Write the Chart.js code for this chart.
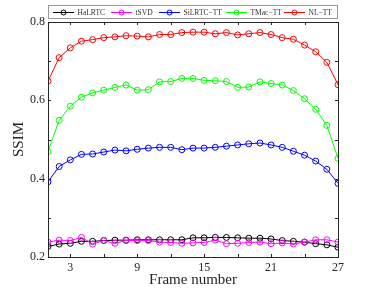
<!DOCTYPE html>
<html>
<head>
<meta charset="utf-8">
<script src="https://cdn.jsdelivr.net/npm/chart.js@4"></script>
<style>
  body { margin: 0; background: #fff; }
  canvas { display: block; }
</style>
</head>
<body>
<canvas id="ssim" width="374" height="289"></canvas>
<script>
var frames = [1, 2, 3, 4, 5, 6, 7, 8, 9, 10, 11, 12, 13, 14, 15, 16, 17, 18, 19, 20, 21, 22, 23, 24, 25, 26, 27];
var xTickLabels = [3, 9, 15, 21, 27];
var yTickLabels = [0.2, 0.4, 0.6, 0.8];
var seriesNames = ["HaLRTC", "tSVD", "SiLRTC\u2212TT", "TMac\u2212TT", "NL\u2212TT"];

var halrtc = [0.227, 0.233, 0.235, 0.240, 0.240, 0.242, 0.243, 0.243, 0.244, 0.244, 0.244, 0.244, 0.244, 0.249,
              0.249, 0.250, 0.250, 0.249, 0.248, 0.248, 0.246, 0.242, 0.240, 0.238, 0.234, 0.231, 0.225];
var tsvd = [0.238, 0.243, 0.242, 0.250, 0.233, 0.242, 0.235, 0.242, 0.242, 0.242, 0.238, 0.237, 0.235, 0.236,
            0.237, 0.243, 0.234, 0.235, 0.237, 0.238, 0.234, 0.236, 0.233, 0.238, 0.244, 0.244, 0.238];
var siltrcTT = [0.392, 0.431, 0.448, 0.462, 0.463, 0.468, 0.473, 0.471, 0.475, 0.478, 0.480, 0.480, 0.474, 0.478,
                0.478, 0.480, 0.483, 0.486, 0.489, 0.491, 0.486, 0.480, 0.470, 0.460, 0.445, 0.424, 0.388];
var tmacTT = [0.469, 0.549, 0.585, 0.608, 0.619, 0.626, 0.633, 0.639, 0.626, 0.627, 0.647, 0.648, 0.656, 0.656,
              0.651, 0.650, 0.648, 0.633, 0.634, 0.647, 0.643, 0.639, 0.625, 0.604, 0.577, 0.536, 0.452];
var nlTT = [0.649, 0.709, 0.734, 0.751, 0.755, 0.760, 0.762, 0.765, 0.764, 0.762, 0.768, 0.768, 0.773, 0.774,
            0.774, 0.770, 0.773, 0.767, 0.770, 0.773, 0.768, 0.760, 0.756, 0.741, 0.724, 0.697, 0.640];

var colors = ["#000000", "#ff00ff", "#0000ff", "#00ff00", "#ff0000"];
var allSeries = [halrtc, tsvd, siltrcTT, tmacTT, nlTT];
var serif = "'Liberation Serif', 'Times New Roman', serif";

function mkSet(i, order) {
    return {
        label: seriesNames[i],
        data: frames.map(function(f, k) { return { x: f, y: allSeries[i][k] }; }),
        borderColor: colors[i],
        borderWidth: 1,
        pointRadius: 3,
        pointBorderWidth: 1,
        pointBorderColor: colors[i],
        pointBackgroundColor: 'rgba(0,0,0,0)',
        tension: 0,
        order: order
    };
}

// box, inward ticks and legend drawn MATLAB style
var matlabBox = {
    id: 'matlabBox',
    afterDraw: function(chart) {
        var ctx = chart.ctx, a = chart.chartArea, sx = chart.scales.x, sy = chart.scales.y;
        ctx.save();
        ctx.strokeStyle = '#262626';
        ctx.lineWidth = 1;
        ctx.beginPath();
        for (var f = 3; f <= 27; f += 3) {
            var px = Math.round(sx.getPixelForValue(f)) + 0.5;
            ctx.moveTo(px, a.bottom); ctx.lineTo(px, a.bottom - 3);
            ctx.moveTo(px, a.top); ctx.lineTo(px, a.top + 3);
        }
        for (var v = 2; v <= 8; v++) {
            var py = Math.round(sy.getPixelForValue(v / 10)) + 0.5;
            ctx.moveTo(a.left, py); ctx.lineTo(a.left + 3, py);
            ctx.moveTo(a.right, py); ctx.lineTo(a.right - 3, py);
        }
        ctx.stroke();
        ctx.strokeRect(Math.round(a.left) + 0.5, Math.round(a.top) + 0.5,
                       Math.round(a.right - a.left), Math.round(a.bottom - a.top));

        // legend
        var lx0 = 48.5, ly0 = 5.5, lw = 289, lh = 13;
        var itemX = [53, 111, 159, 226, 284];
        ctx.fillStyle = '#fff';
        ctx.fillRect(lx0, ly0, lw, lh);
        ctx.strokeStyle = '#999';
        ctx.strokeRect(lx0, ly0, lw, lh);
        ctx.font = '7.5px ' + serif;
        ctx.textBaseline = 'middle';
        var cy = 12;
        for (var i = 0; i < seriesNames.length; i++) {
            var x = itemX[i];
            ctx.strokeStyle = colors[i];
            ctx.beginPath();
            ctx.moveTo(x, cy + 0.5); ctx.lineTo(x + 21, cy + 0.5);
            ctx.stroke();
            ctx.beginPath();
            ctx.arc(x + 10.5, cy + 0.5, 2.5, 0, Math.PI * 2);
            ctx.stroke();
            ctx.fillStyle = '#333';
            ctx.fillText(seriesNames[i], x + 24.5, cy + 1);
        }
        ctx.restore();
    }
};

var c = document.getElementById("ssim");
var ctx = c.getContext("2d");
var chart = new Chart(ctx, {
    type: 'line',
    data: {
        datasets: [mkSet(0, 2), mkSet(1, 1), mkSet(2, 2), mkSet(3, 2), mkSet(4, 2)]
    },
    options: {
        responsive: false,
        animation: false,
        layout: { padding: { left: 0, right: 36, top: 22, bottom: 0 } },
        plugins: { legend: { display: false }, tooltip: { enabled: false } },
        scales: {
            x: {
                type: 'linear',
                min: 1,
                max: 27,
                afterBuildTicks: function(s) { s.ticks = xTickLabels.map(function(v) { return { value: v }; }); },
                afterFit: function(s) { s.height = 32; },
                grid: { display: false, drawTicks: false },
                border: { display: false },
                ticks: { color: '#262626', font: { family: serif, size: 12 }, padding: 4, maxRotation: 0 },
                title: { display: true, text: 'Frame number', color: '#262626', font: { family: serif, size: 15 }, padding: 0 }
            },
            y: {
                min: 0.2,
                max: 0.8,
                afterBuildTicks: function(s) { s.ticks = yTickLabels.map(function(v) { return { value: v }; }); },
                afterFit: function(s) { s.width = 48; },
                grid: { display: false, drawTicks: false },
                border: { display: false },
                ticks: { color: '#262626', font: { family: serif, size: 12 }, padding: 3,
                         callback: function(v) { return v.toFixed(1); } },
                title: { display: true, text: 'SSIM', color: '#262626', font: { family: serif, size: 15 }, padding: 10 }
            }
        }
    },
    plugins: [matlabBox]
});
</script>
</body>
</html>
